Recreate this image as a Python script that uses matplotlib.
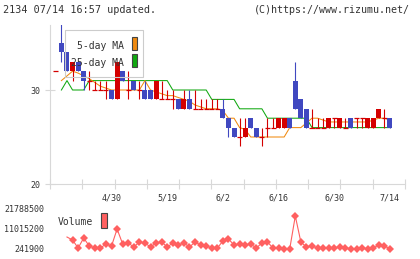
import matplotlib
matplotlib.use('Agg')
import matplotlib.pyplot as plt
import numpy as np
from matplotlib.patches import Rectangle

W, H = 420, 259
FONT = 'DejaVu Sans Mono'
nan = np.nan

# ---- data (index 0 is a partially visible day before the first full candle)
opens  = [32, 35, 34, 32, 33, 32, 31, 30, 30, 30, 30, 29, 32, 30, 31, 30, 30, 30, 29, 29, 29,
          29, 29, 28, 29, 28, 28, 28, 28, 28, 28, 27, 26, 25, 25, 27, 26, 25, 26, 26, 26,
          26, 27, 31, 29, 28, 26, 26, 26, 26, 27, 26, 26, 27, 27, 27, 26, 26, 27, 27, 27]
highs  = [32, 37, 34, 33, 33, 32, 32, 31, 31, 31, 30, 33, 32, 32, 31, 31, 31, 30, 31, 31, 30,
          30, 29, 30, 30, 30, 29, 29, 29, 29, 29, 27, 26, 27, 27, 27, 26, 26, 27, 27, 27,
          27, 27, 33, 29, 28, 28, 27, 27, 27, 27, 27, 27, 27, 27, 27, 27, 27, 28, 28, 27]
lows   = [32, 33, 32, 31, 32, 30, 30, 30, 30, 29, 29, 29, 31, 29, 30, 29, 29, 29, 29, 29, 29,
          28, 28, 28, 28, 28, 28, 28, 28, 28, 27, 25, 25, 24, 25, 26, 25, 24, 25, 26, 26,
          26, 26, 28, 27, 26, 26, 26, 26, 26, 26, 26, 26, 26, 26, 26, 26, 26, 27, 26, 26]
closes = [32, 34, 32, 33, 32, 31, 31, 30, 30, 30, 29, 33, 31, 30, 30, 30, 29, 29, 31, 29, 29,
          29, 28, 29, 28, 28, 28, 28, 28, 28, 27, 26, 25, 25, 26, 26, 25, 25, 26, 26, 27,
          27, 26, 28, 27, 26, 26, 26, 26, 27, 27, 27, 26, 26, 27, 27, 27, 27, 28, 27, 26]
ma5    = [nan, 31, 31.5, 32, 31.8, 31.5, 31.2, 30.8, 30.4, 30.2, 30, 30, 30, 30, 30, 30, 31, 30,
          29.8, 29.6, 29.4, 29.4, 29.2, 29, 28.8, 28.4, 28.2, 28, 28, 28, 27.8, 27, 27, 26, 25.8,
          25, 25, 25, 25, 25, 25, 25, 26, 26, 26, 26.5, 27, 27, 26.8, 26.6, 26.6, 26.6, 26.6,
          26.6, 26.6, 26.6, 26.6, 26.8, 27, 27, 26.8]
ma25   = [nan, 30, 31, 30, 30, 30] + [31] * 15 + [30] * 7 + [29] * 5 + [28] * 5 + [27] * 8 + [26] * 15
volumes = [nan, nan, 6700000,
           5090000, 780000, 6170000, 1860000, 780000, 780000, 2930000, 1860000, 11000000, 2930000,
           3470000, 1320000, 4010000, 3470000, 1320000, 3470000, 4010000, 1320000, 3470000, 2400000,
           3470000, 1320000, 4010000, 2400000, 1860000, 780000, 780000, 4550000, 5630000, 2400000,
           2930000, 2400000, 2930000, 780000, 3470000, 4010000, 780000, 780000, 300000, 300000,
           18000000, 4010000, 1320000, 1860000, 780000, 780000, 780000, 780000, 1320000, 780000,
           300000, 300000, 780000, 300000, 780000, 2400000, 1860000, 300000]
date_labels = ['4/30', '5/19', '6/2', '6/16', '6/30', '7/14']
date_label_idx = [10, 20, 30, 40, 50, 60]
price_ticks = [20, 30]
vol_ticks = [241900, 11015200, 21788500]
vol_tick_labels = ['241900', '11015200', '21788500']

RED = '#d40000'
BLUE = '#4048c0'
ORANGE = '#f08a10'
GREEN = '#10a810'
VOLC = '#ff6060'
GRID = '#d8d8d8'
TXT = '#333333'


def fx(px):
    return px / W


def fy(py):
    return 1 - py / H


fig = plt.figure(figsize=(W / 100, H / 100), dpi=100)
fig.patch.set_facecolor('white')

XL = (-1.05, 62.7)

# ---- main price axes
ax = fig.add_axes([fx(50), fy(184), fx(405) - fx(50), fy(25) - fy(184)])
ax.set_xlim(*XL)
ax.set_ylim(20, 20 + 159 / 9.4)
ax.set_facecolor('none')
for s in ['top', 'right']:
    ax.spines[s].set_visible(False)
for s in ['left', 'bottom']:
    ax.spines[s].set_color(GRID)
    ax.spines[s].set_linewidth(0.8)

x = np.arange(len(opens))
ax.plot(x, ma25, color=GREEN, lw=0.75, zorder=2)
ax.plot(x, ma5, color=ORANGE, lw=0.75, zorder=2)

bw = 0.9
for i in range(len(opens)):
    o, h, l, c = opens[i], highs[i], lows[i], closes[i]
    col = BLUE if c < o else RED
    ax.vlines(x[i], l, h, color=col, lw=0.8, zorder=3)
    if c == o:
        ax.hlines(o, x[i] - bw / 2, x[i] + bw / 2, color=col, lw=0.9, zorder=3)
    else:
        ax.add_patch(Rectangle((x[i] - bw / 2, min(o, c)), bw, abs(c - o),
                               facecolor=col, edgecolor='none', zorder=3))

ax.set_yticks(price_ticks)
ax.set_yticklabels([str(t) for t in price_ticks])
ax.tick_params(axis='y', direction='inout', length=7, width=0.8, color=GRID,
               labelsize=6, labelcolor=TXT, pad=3.5)
ax.set_xticks(date_label_idx)
ax.set_xticklabels(date_labels)
ax.set_xticks(np.linspace(XL[0], XL[1], 12), minor=True)
ax.tick_params(axis='x', which='major', length=0, labelsize=6, labelcolor=TXT, pad=6.5)
ax.tick_params(axis='x', which='minor', direction='inout', length=7, width=0.8, color=GRID)
for lab in ax.get_xticklabels() + ax.get_yticklabels():
    lab.set_fontfamily(FONT)

# legend of the price chart
fig.patches.append(Rectangle((fx(65), fy(77)), fx(143) - fx(65), fy(30) - fy(77),
                             transform=fig.transFigure, facecolor='none',
                             edgecolor='#cccccc', lw=0.8, zorder=1))
fig.text(fx(124), fy(46), '5-day MA', ha='right', va='center', fontsize=7,
         family=FONT, color=TXT, zorder=10)
fig.text(fx(124), fy(62.5), '25-day MA', ha='right', va='center', fontsize=7,
         family=FONT, color=TXT, zorder=10)
fig.patches.append(Rectangle((fx(132), fy(50)), fx(137) - fx(132), fy(37) - fy(50),
                             transform=fig.transFigure, facecolor=ORANGE,
                             edgecolor='#444444', lw=0.8, zorder=10))
fig.patches.append(Rectangle((fx(132), fy(67)), fx(137) - fx(132), fy(54) - fy(67),
                             transform=fig.transFigure, facecolor=GREEN,
                             edgecolor='#444444', lw=0.8, zorder=10))

# ---- volume axes
av = fig.add_axes([fx(50), fy(249), fx(405) - fx(50), fy(209) - fy(249)])
av.set_xlim(*XL)
av.set_ylim(vol_ticks[0], vol_ticks[-1])
av.set_facecolor('none')
for s in av.spines.values():
    s.set_visible(False)
av.plot(x, volumes, color=VOLC, lw=0.8, clip_on=False)
av.plot(x[3:], volumes[3:], ls='none', marker='D', ms=4.0, color=VOLC,
        markeredgewidth=0, clip_on=False)
av.set_xticks([])
av.set_yticks(vol_ticks)
av.set_yticklabels(vol_tick_labels)
av.tick_params(axis='y', length=0, labelsize=6, labelcolor=TXT, pad=4.3)
for lab in av.get_yticklabels():
    lab.set_fontfamily(FONT)

fig.text(fx(58), fy(222), 'Volume', ha='left', va='center', fontsize=7,
         family=FONT, color=TXT)
fig.patches.append(Rectangle((fx(101), fy(228)), fx(107.5) - fx(101), fy(213) - fy(228),
                             transform=fig.transFigure, facecolor=VOLC,
                             edgecolor='#444444', lw=0.8))

# ---- header texts
fig.text(fx(3), fy(10), '2134 07/14 16:57 updated.', ha='left', va='center',
         fontsize=7.3, family=FONT, color=TXT)
fig.text(fx(410), fy(10), '(C)https://www.rizumu.net/', ha='right', va='center',
         fontsize=7.2, family=FONT, color=TXT)

fig.savefig('out.png', dpi=100, facecolor='white')
